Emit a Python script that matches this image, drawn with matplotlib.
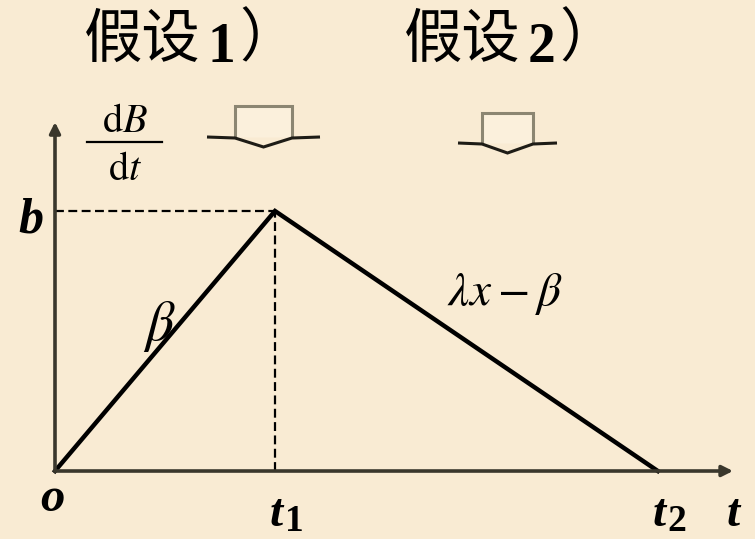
import matplotlib
matplotlib.use('Agg')
import matplotlib.pyplot as plt
from matplotlib.lines import Line2D
from matplotlib.patches import Polygon

# rate of change dB/dt: linear rise to b at t1, linear fall back to zero at t2
t_points = [0.0, 1.0, 2.74]
rate = [0.0, 1.0, 0.0]
t1 = t_points[1]
t2 = t_points[2]
b = rate[1]
t_axis_end = 3.082
y_axis_end = 1.342

bg = '#F9EBD3'
axis_col = '#3a372c'

plt.rcParams['mathtext.fontset'] = 'custom'
plt.rcParams['mathtext.it'] = 'Liberation Serif:bold:italic'
plt.rcParams['mathtext.rm'] = 'Liberation Serif:bold'
plt.rcParams['mathtext.bf'] = 'Liberation Serif:bold'

W, H = 755, 539
fig = plt.figure(figsize=(W / 100, H / 100), dpi=100, facecolor=bg)
ax = fig.add_axes([0, 0, 1, 1])
ax.set_xlim(-0.25, 3.1818)
ax.set_ylim(-0.2615, 1.8115)
ax.axis('off')


def px(x, y):
    # pixel position (from top-left) -> figure fraction
    return x / W, 1 - y / H


# axes with arrow heads
arr = dict(arrowstyle='-|>', lw=2.6, color=axis_col, mutation_scale=16,
           shrinkA=0, shrinkB=0)
ax.annotate('', xy=(t_axis_end, 0), xytext=(0, 0), arrowprops=arr)
ax.annotate('', xy=(0, y_axis_end), xytext=(0, 0), arrowprops=arr)

# dashed guides to the peak
ax.plot([0, t1], [b, b], ls=(0, (4, 2)), lw=1.6, color='black')
ax.plot([t1, t1], [0, b], ls=(0, (4, 2)), lw=1.6, color='black')

# the triangle
ax.plot(t_points, rate, color='black', lw=3.2, solid_joinstyle='miter')

# tick labels, bold italic serif
lab = dict(textcoords='offset pixels', family='Liberation Serif', fontweight='bold',
           ha='center', va='baseline')
ax.annotate('b', xy=(0, b), xytext=(-24, -22), fontsize=36, fontstyle='italic', **lab)
ax.annotate('o', xy=(0, 0), xytext=(-3, -40), fontsize=35, fontstyle='italic', **lab)
for tx, name, sub in [(t1, 't', '1'), (t2, 't', '2')]:
    ax.annotate(name, xy=(tx, 0), xytext=(1, -55), fontsize=34, fontstyle='italic', **lab)
    ax.annotate(sub, xy=(tx, 0), xytext=(19, -60), fontsize=27, **lab)
ax.annotate('t', xy=(t_axis_end, 0), xytext=(0, -55), fontsize=34, fontstyle='italic', **lab)

# slope labels
fig.text(*px(159, 326), r'$\beta$', math_fontfamily='stix', fontsize=40,
         ha='center', va='center')
fig.text(*px(505, 294), r'$\lambda x-\beta$', math_fontfamily='stix', fontsize=34,
         ha='center', va='center')

# y-axis label dB/dt
fig.text(*px(125, 121), r'$\mathrm{d}B$', math_fontfamily='stix', fontsize=29,
         ha='center', va='center')
fig.text(*px(125, 169), r'$\mathrm{d}t$', math_fontfamily='stix', fontsize=29,
         ha='center', va='center')
fig.add_artist(Line2D([87 / W, 162 / W], [1 - 142 / H, 1 - 142 / H],
                      color='black', lw=1.6))

# headings
cjk = ['Noto Sans CJK SC', 'DejaVu Sans']
for x0, num in [(84, '1'), (404, '2')]:
    fig.text(*px(x0, 40), '假设', family=cjk, fontsize=42, ha='left', va='center')
    fig.text(*px(x0 + 124, 62), num, family='Liberation Serif', fontweight='bold',
             fontsize=40, ha='left', va='baseline')
    fig.text(*px(x0 + 155, 40), '）', family=cjk, fontsize=42, ha='left', va='center')


# hollow block arrows under the headings
def block_arrow(x_l, x_r, top, shoulder, w_l, w_r, tip):
    xc = (x_l + x_r) / 2
    body = Polygon([px(x_l, shoulder), px(x_l, top), px(x_r, top), px(x_r, shoulder)],
                   closed=False, facecolor='#FBF0DC', edgecolor='#8c8672', lw=2.2,
                   transform=fig.transFigure)
    head = Polygon([px(w_l, shoulder), px(x_l, shoulder + 1), px(xc, tip),
                    px(x_r, shoulder + 1), px(w_r, shoulder)],
                   closed=False, fill=False, edgecolor='#1e1c16', lw=2.2,
                   transform=fig.transFigure)
    fig.add_artist(body)
    fig.add_artist(head)


block_arrow(235, 292, 106, 137, 207, 320, 147)
block_arrow(482, 533, 113, 143, 458, 557, 153)

fig.savefig('out.png', dpi=100, facecolor=bg)
